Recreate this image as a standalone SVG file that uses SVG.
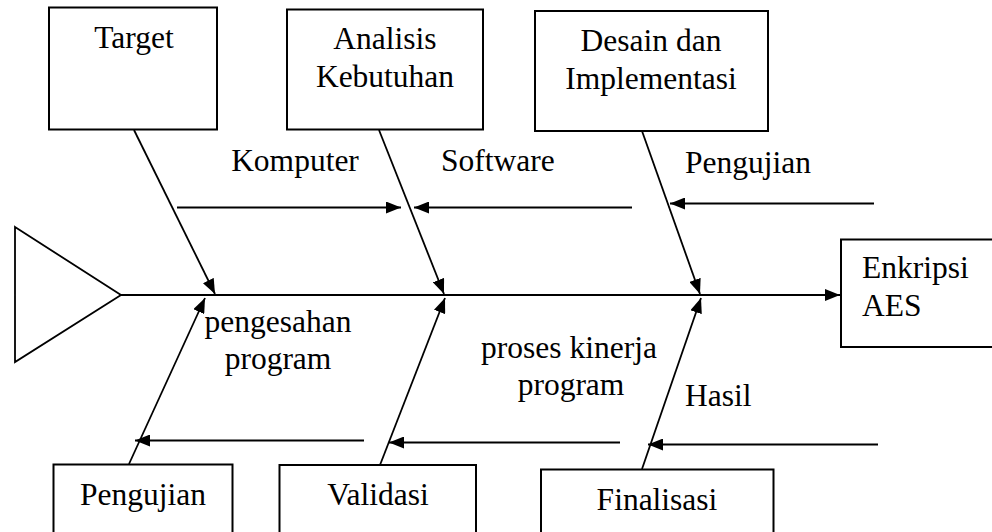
<svg xmlns="http://www.w3.org/2000/svg" width="992" height="532" viewBox="0 0 992 532">
<style>
.box{fill:#fff;stroke:#000;stroke-width:2}
.ln{fill:none;stroke:#000;stroke-width:1.8}
.t{font-family:"Liberation Serif","Times New Roman",serif;font-size:31.5px;fill:#000}
.c{text-anchor:middle}
</style>
<defs>
<marker id="ah" markerUnits="userSpaceOnUse" markerWidth="15" markerHeight="12" refX="15" refY="6" orient="auto" viewBox="0 0 15 12">
<path d="M0,0 L15,6 L0,12 z" fill="#000"/>
</marker>
</defs>
<rect width="992" height="532" fill="#fff"/>
<g id="head">
<polygon class="ln" points="15,227 121,295 15,362"/>
</g>
<g id="connectors">
<line class="ln" x1="121" y1="295" x2="840" y2="295" marker-end="url(#ah)"/>
<line class="ln" x1="134" y1="130" x2="215" y2="294" marker-end="url(#ah)"/>
<line class="ln" x1="379" y1="130" x2="444" y2="294" marker-end="url(#ah)"/>
<line class="ln" x1="642" y1="131" x2="700" y2="294" marker-end="url(#ah)"/>
<line class="ln" x1="177" y1="207.5" x2="401" y2="207.5" marker-end="url(#ah)"/>
<line class="ln" x1="632" y1="207.5" x2="414" y2="207.5" marker-end="url(#ah)"/>
<line class="ln" x1="874" y1="203.5" x2="670" y2="203.5" marker-end="url(#ah)"/>
<line class="ln" x1="129" y1="464" x2="205" y2="298" marker-end="url(#ah)"/>
<line class="ln" x1="380" y1="465" x2="445" y2="298" marker-end="url(#ah)"/>
<line class="ln" x1="642" y1="469" x2="701" y2="298" marker-end="url(#ah)"/>
<line class="ln" x1="364" y1="440.5" x2="135" y2="440.5" marker-end="url(#ah)"/>
<line class="ln" x1="620" y1="442.5" x2="389" y2="442.5" marker-end="url(#ah)"/>
<line class="ln" x1="878" y1="444.5" x2="648" y2="444.5" marker-end="url(#ah)"/>
</g>
<g id="target">
<rect class="box" x="49" y="7.5" width="168" height="122"/>
<text class="t c" x="134" y="48">Target</text>
</g>
<g id="analisis">
<rect class="box" x="287" y="9.5" width="196" height="120"/>
<text class="t c" x="385" y="49">Analisis</text>
<text class="t c" x="385" y="87">Kebutuhan</text>
</g>
<g id="desain">
<rect class="box" x="535" y="11" width="233" height="120"/>
<text class="t c" x="651" y="51">Desain dan</text>
<text class="t c" x="651" y="89">Implementasi</text>
</g>
<g id="enkripsi">
<rect class="box" x="841" y="239.5" width="160" height="107.5"/>
<text class="t" x="862" y="278">Enkripsi</text>
<text class="t" x="862" y="316">AES</text>
</g>
<g id="pengujian-bottom">
<rect class="box" x="53.5" y="464.5" width="179" height="80"/>
<text class="t c" x="143" y="505">Pengujian</text>
</g>
<g id="validasi">
<rect class="box" x="279.5" y="465" width="196.5" height="80"/>
<text class="t c" x="378" y="505">Validasi</text>
</g>
<g id="finalisasi">
<rect class="box" x="541" y="469.5" width="232.5" height="80"/>
<text class="t c" x="657" y="510">Finalisasi</text>
</g>
<g id="labels">
<text class="t c" x="295" y="171">Komputer</text>
<text class="t" x="441" y="171">Software</text>
<text class="t" x="685" y="173">Pengujian</text>
<text class="t c" x="278" y="332">pengesahan</text>
<text class="t c" x="278" y="369">program</text>
<text class="t c" x="569" y="358">proses kinerja</text>
<text class="t c" x="571" y="395">program</text>
<text class="t" x="685" y="406">Hasil</text>
</g>
</svg>
